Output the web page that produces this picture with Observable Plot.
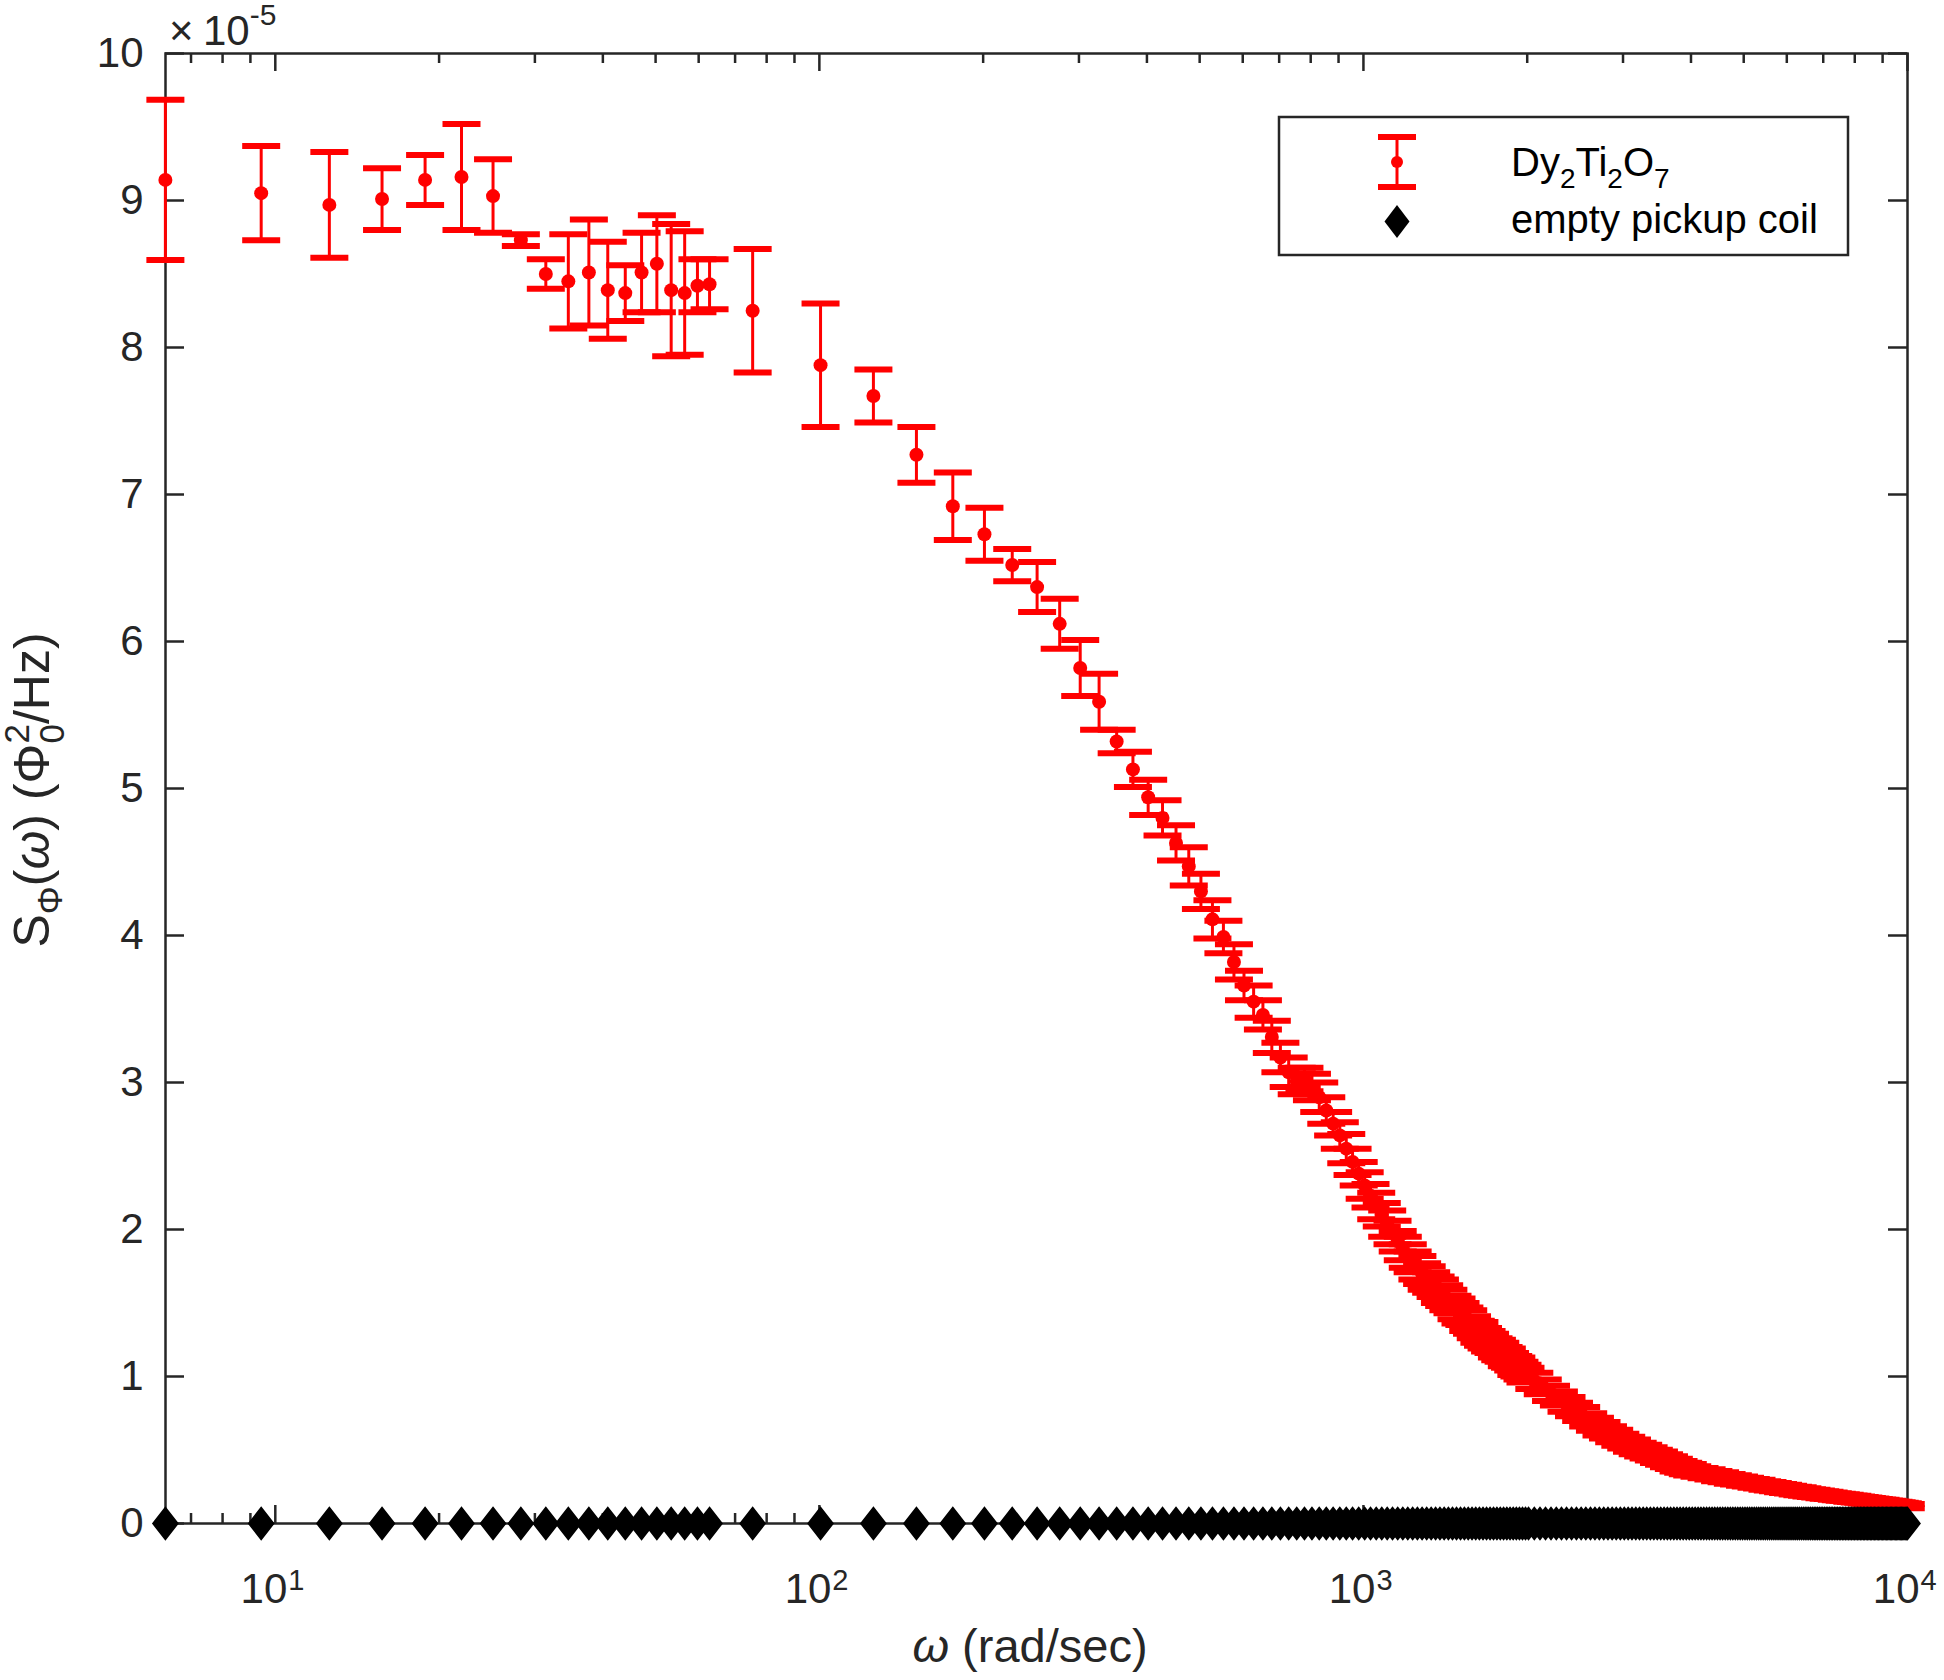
<!DOCTYPE html>
<html><head><meta charset="utf-8">
<script src="https://cdn.jsdelivr.net/npm/d3@7"></script>
<script src="https://cdn.jsdelivr.net/npm/@observablehq/plot@0.6"></script>
<style>html,body{margin:0;padding:0;background:#fff;} #chart svg{display:block}</style>
</head><body><div id="chart"></div>
<script>
// ---- data (S in units of 1e-5 Phi0^2/Hz, omega in rad/s) ----
const omegaLow = [6.28, 9.42, 12.57, 15.71, 18.85, 21.99, 25.13, 28.27, 31.42, 34.56,
  37.70, 40.84, 43.98, 47.12, 50.27, 53.41, 56.55, 59.69, 62.83, 75.40,
  100.5, 125.7, 150.8, 175.9, 201.1, 226.2, 251.3, 276.5, 301.6, 326.7,
  351.9, 377.0, 402.1, 427.3, 452.4, 477.5, 502.7, 527.8, 552.9, 578.1,
  603.2, 628.3, 653.5, 678.6, 703.7];
const sLow = [9.14, 9.05, 8.97, 9.01, 9.14, 9.16, 9.03, 8.73, 8.50, 8.45,
  8.51, 8.39, 8.37, 8.51, 8.57, 8.39, 8.37, 8.42, 8.43, 8.25,
  7.88, 7.67, 7.27, 6.92, 6.73, 6.52, 6.37, 6.12, 5.82, 5.59,
  5.32, 5.13, 4.94, 4.80, 4.63, 4.47, 4.30, 4.11, 3.99, 3.82,
  3.66, 3.55, 3.46, 3.31, 3.17];
const errLow = [0.545, 0.32, 0.36, 0.21, 0.17, 0.36, 0.25, 0.04, 0.10, 0.32,
  0.36, 0.33, 0.19, 0.27, 0.33, 0.45, 0.42, 0.18, 0.17, 0.42,
  0.42, 0.18, 0.19, 0.23, 0.18, 0.11, 0.17, 0.17, 0.19, 0.19,
  0.08, 0.12, 0.12, 0.12, 0.12, 0.13, 0.12, 0.13, 0.11, 0.12,
  0.10, 0.11, 0.10, 0.11, 0.10];

const omegaMid = [728.8, 754.0, 779.1, 804.2, 829.4, 854.5, 879.6, 904.8, 929.9, 955.0,
  980.2, 1005.3, 1030.4, 1055.6, 1080.7, 1105.8, 1131.0, 1156.1, 1181.2, 1206.4,
  1231.5, 1256.6, 1281.8, 1306.9, 1332.0, 1357.2, 1382.3, 1407.4, 1432.6, 1457.7,
  1482.8, 1508.0, 1533.1, 1558.2, 1583.4, 1608.5, 1633.6, 1658.8, 1683.9, 1709.0,
  1734.2, 1759.3, 1784.4, 1809.6, 1834.7, 1859.8, 1885.0, 1910.1, 1935.2, 1960.4,
  1985.5];
const sMid = [3.07, 3.01, 3.02, 2.97, 2.90, 2.81, 2.72, 2.64, 2.55, 2.46,
  2.38, 2.30, 2.23, 2.16, 2.10, 2.04, 1.98, 1.92, 1.87, 1.82,
  1.78, 1.74, 1.70, 1.67, 1.64, 1.61, 1.58, 1.55, 1.52, 1.49,
  1.46, 1.43, 1.41, 1.38, 1.35, 1.32, 1.30, 1.27, 1.25, 1.23,
  1.21, 1.19, 1.17, 1.15, 1.13, 1.11, 1.09, 1.07, 1.05, 1.03,
  1.01];
const errMid = [0.10, 0.09, 0.08, 0.09, 0.10, 0.09, 0.08, 0.09, 0.10, 0.09,
  0.08, 0.09, 0.08, 0.09, 0.08, 0.09, 0.08, 0.07, 0.08, 0.08,
  0.07, 0.08, 0.07, 0.08, 0.07, 0.07, 0.08, 0.07, 0.07, 0.06,
  0.07, 0.07, 0.06, 0.07, 0.06, 0.06, 0.07, 0.06, 0.06, 0.06,
  0.05, 0.06, 0.06, 0.05, 0.06, 0.05, 0.05, 0.06, 0.05, 0.05,
  0.05];

const omegaHigh = [2061, 2136, 2212, 2287, 2362, 2438, 2513, 2589, 2664, 2739,
  2815, 2890, 2966, 3041, 3116, 3192, 3267, 3343, 3418, 3493,
  3569, 3644, 3720, 3795, 3870, 3946,
  4021, 4147, 4273, 4398, 4524, 4650, 4775, 4901, 5027, 5152,
  5278, 5404, 5529, 5655, 5781, 5906, 6032, 6158, 6283, 6409,
  6535, 6660, 6786, 6912, 7037, 7163, 7289, 7414, 7540, 7666,
  7791, 7917, 8043, 8168, 8294, 8420, 8545, 8671, 8796, 8922,
  9048, 9173, 9299, 9425, 9550, 9676, 9802, 9927];
const sHigh = [0.97, 0.93, 0.885, 0.85, 0.81, 0.775, 0.745, 0.705, 0.675, 0.645,
  0.62, 0.595, 0.57, 0.55, 0.53, 0.51, 0.495, 0.48, 0.465, 0.45,
  0.435, 0.42, 0.405, 0.39, 0.38, 0.37,
  0.358, 0.348, 0.338, 0.328, 0.318, 0.309, 0.300, 0.292, 0.284, 0.277,
  0.270, 0.263, 0.256, 0.250, 0.244, 0.238, 0.232, 0.227, 0.222, 0.216,
  0.211, 0.207, 0.202, 0.198, 0.194, 0.190, 0.186, 0.182, 0.179, 0.175,
  0.172, 0.168, 0.165, 0.162, 0.159, 0.155, 0.152, 0.149, 0.146, 0.143,
  0.140, 0.137, 0.134, 0.131, 0.128, 0.125, 0.122, 0.118];
const errHigh = [0.055, 0.05, 0.052, 0.048, 0.05, 0.046, 0.048, 0.045, 0.044, 0.046,
  0.042, 0.043, 0.041, 0.04, 0.042, 0.039, 0.04, 0.038, 0.037, 0.039,
  0.036, 0.037, 0.035, 0.036, 0.034, 0.035,
  0.032, 0.03, 0.031, 0.029, 0.03, 0.028, 0.029, 0.027, 0.028, 0.026,
  0.027, 0.025, 0.026, 0.025, 0.024, 0.025, 0.024, 0.023, 0.024, 0.023,
  0.022, 0.023, 0.022, 0.021, 0.022, 0.021, 0.02, 0.021, 0.02, 0.02,
  0.019, 0.02, 0.019, 0.019, 0.018, 0.019, 0.018, 0.018, 0.017, 0.018,
  0.017, 0.017, 0.016, 0.017, 0.016, 0.016, 0.016, 0.015];

// empty pickup coil: measured on a dense grid; above 2000 rad/s it is listed separately
const omegaCoilHigh = [2011, 2061, 2111, 2161, 2212, 2262, 2312, 2362, 2413, 2463,
  2513, 2563, 2614, 2664, 2714, 2765, 2815, 2865, 2915, 2966,
  3016, 3066, 3116, 3167, 3217, 3267, 3317, 3368, 3418, 3468,
  3519, 3569, 3619, 3669, 3720, 3770, 3820, 3870, 3921, 3971,
  4021, 4071, 4122, 4172, 4222, 4273, 4323, 4373, 4423, 4474,
  4524, 4574, 4624, 4675, 4725, 4775, 4825, 4876, 4926, 4976,
  5027, 5077, 5127, 5177, 5228, 5278, 5328, 5378, 5429, 5479,
  5529, 5579, 5630, 5680, 5730, 5781, 5831, 5881, 5931, 5982,
  6032, 6082, 6132, 6183, 6233, 6283, 6333, 6384, 6434, 6484,
  6535, 6585, 6635, 6685, 6736, 6786, 6836, 6886, 6937, 6987,
  7037, 7087, 7138, 7188, 7238, 7288, 7339, 7389, 7439, 7490,
  7540, 7590, 7640, 7691, 7741, 7791, 7841, 7892, 7942, 7992,
  8042, 8093, 8143, 8193, 8244, 8294, 8344, 8394, 8445, 8495,
  8545, 8595, 8646, 8696, 8746, 8796, 8847, 8897, 8947, 8998,
  9048, 9098, 9148, 9199, 9249, 9299, 9349, 9400, 9450, 9500,
  9550, 9601, 9651, 9701, 9752, 9802, 9852, 9902, 9953, 10000];
// coil signal reads as zero on this scale at every frequency
const coilS = [
  0,0,0,0,0,0,0,0,0,0,0,0,0,0,0, 0,0,0,0,0,0,0,0,0,0,0,0,0,0,0,
  0,0,0,0,0,0,0,0,0,0,0,0,0,0,0, 0,0,0,0,0,0,0,0,0,0,0,0,0,0,0,
  0,0,0,0,0,0,0,0,0,0,0,0,0,0,0, 0,0,0,0,0,0,0,0,0,0,0,0,0,0,0,
  0,0,0,0,0,0,0,0,0,0,0,0,0,0,0, 0,0,0,0,0,0,0,0,0,0,0,0,0,0,0,
  0,0,0,0,0,0,0,0,0,0,0,0,0,0,0, 0,0,0,0,0,0,0,0,0,0,0,0,0,0,0,
  0,0,0,0,0,0,0,0,0,0,0,0,0,0,0, 0,0,0,0,0,0,0,0,0,0,0,0,0,0,0,
  0,0,0,0,0,0,0,0,0,0,0,0,0,0,0, 0,0,0,0,0,0,0,0,0,0,0,0,0,0,0,
  0,0,0,0,0,0,0,0,0,0,0,0,0,0,0, 0,0,0,0,0,0,0,0,0,0,0,0,0,0,0,
  0,0,0,0,0,0,0,0,0,0,0,0,0,0,0, 0,0,0,0,0,0,0,0,0,0,0,0,0,0,0,
  0,0,0,0,0,0,0,0,0,0,0,0,0,0,0, 0,0,0,0,0,0,0,0,0,0,0,0,0,0,0];

const yTicks = [0, 1, 2, 3, 4, 5, 6, 7, 8, 9, 10];
const xMajor = [10, 100, 1000, 10000];
const xMinor = [7, 8, 9, 20, 30, 40, 50, 60, 70, 80, 90, 200, 300, 400, 500, 600, 700, 800, 900,
  2000, 3000, 4000, 5000, 6000, 7000, 8000, 9000];
const xDomain = [6.2832, 10000];
const yDomain = [0, 10];

// ---- layout ----
const W = 1944, H = 1680;
const M = {top: 53, right: 37, bottom: 157, left: 165};
const plotW = W - M.left - M.right;
const plotH = H - M.top - M.bottom;
const FONT = '"Liberation Sans", Arial, Helvetica, sans-serif';
const AX = "#262626";
const RED = "#ff0000";

const omega = [...omegaLow, ...omegaMid, ...omegaHigh];
const sVal = [...sLow, ...sMid, ...sHigh];
const sErr = [...errLow, ...errMid, ...errHigh];
const dy = omega.map((w, i) => ({w, s: sVal[i], e: sErr[i]}));
const omegaCoil = [...omegaLow, ...omegaMid, ...omegaCoilHigh];
const coil = omegaCoil.map((w, i) => ({w, s: coilS[i] ?? 0}));

function rectSymbol(w, h) {
  return {draw(ctx) { ctx.moveTo(-w/2, -h/2); ctx.lineTo(w/2, -h/2); ctx.lineTo(w/2, h/2); ctx.lineTo(-w/2, h/2); ctx.closePath(); }};
}
const capSym = rectSymbol(38, 6);
const diamondSym = {draw(ctx) { ctx.moveTo(0, -16); ctx.lineTo(12.5, 0); ctx.lineTo(0, 16); ctx.lineTo(-12.5, 0); ctx.closePath(); }};

const chart = Plot.plot({
  width: W, height: H,
  marginTop: M.top, marginRight: M.right, marginBottom: M.bottom, marginLeft: M.left,
  x: {type: "log", domain: xDomain, axis: null},
  y: {domain: yDomain, axis: null},
  style: {fontFamily: FONT, background: "white", color: AX, overflow: "visible"},
  marks: [
    Plot.frame({stroke: AX, strokeWidth: 2.5}),
    Plot.ruleY(yTicks, {y: d => d, stroke: AX, strokeWidth: 2.5, insetRight: plotW - 19}),
    Plot.ruleY(yTicks, {y: d => d, stroke: AX, strokeWidth: 2.5, insetLeft: plotW - 19}),
    Plot.ruleX(xMajor, {x: d => d, stroke: AX, strokeWidth: 2.5, insetTop: plotH - 18}),
    Plot.ruleX(xMajor, {x: d => d, stroke: AX, strokeWidth: 2.5, insetBottom: plotH - 18}),
    Plot.ruleX(xMinor, {x: d => d, stroke: AX, strokeWidth: 2.5, insetTop: plotH - 10}),
    Plot.ruleX(xMinor, {x: d => d, stroke: AX, strokeWidth: 2.5, insetBottom: plotH - 10}),
    Plot.text(yTicks, {y: d => d, frameAnchor: "left", dx: -22, textAnchor: "end", text: d => String(d), fontSize: 42, fill: AX}),
    Plot.text(xMajor, {x: d => d, frameAnchor: "bottom", text: () => "10", textAnchor: "end", lineAnchor: "bottom", dx: 12, dy: 79, fontSize: 42, fill: AX}),
    Plot.text(xMajor, {x: d => d, frameAnchor: "bottom", text: d => String(Math.round(Math.log10(d))), textAnchor: "start", lineAnchor: "bottom", dx: 13, dy: 66, fontSize: 29, fill: AX}),
    // Dy2Ti2O7 error bars
    Plot.ruleX(dy, {x: "w", y1: d => d.s - d.e, y2: d => d.s + d.e, stroke: RED, strokeWidth: 3}),
    Plot.dot(dy, {x: "w", y: d => d.s - d.e, symbol: capSym, fill: RED, stroke: "none"}),
    Plot.dot(dy, {x: "w", y: d => d.s + d.e, symbol: capSym, fill: RED, stroke: "none"}),
    Plot.dot(dy, {x: "w", y: "s", r: 7, fill: RED, stroke: "none"}),
    // empty pickup coil
    Plot.dot(coil, {x: "w", y: "s", symbol: diamondSym, fill: "black", stroke: "black", strokeWidth: 1.5})
  ]
});
document.getElementById("chart").appendChild(chart);

// ---- annotations (labels, multiplier, legend) ----
const svg = d3.select(chart);
const NS = (sel) => sel.attr("font-family", FONT);

// y label
const yl = NS(svg.append("text")).attr("transform", "translate(49,790) rotate(-90)")
  .attr("text-anchor", "middle").attr("font-size", 50).attr("fill", AX);
yl.append("tspan").text("S");
yl.append("tspan").attr("font-size", 35).attr("dy", 13).text("Φ");
yl.append("tspan").attr("dy", -13).text("(");
yl.append("tspan").attr("font-style", "italic").text("ω");
yl.append("tspan").text(") (Φ");
yl.append("tspan").attr("font-size", 35).attr("dy", -20).text("2");
yl.append("tspan").attr("font-size", 35).attr("dx", -19.5).attr("dy", 35).text("0");
yl.append("tspan").attr("dy", -15).text("/Hz)");

// x label
const xl = NS(svg.append("text")).attr("x", 1030).attr("y", 1662)
  .attr("text-anchor", "middle").attr("font-size", 47).attr("fill", AX);
xl.append("tspan").attr("font-style", "italic").text("ω");
xl.append("tspan").text(" (rad/sec)");

// multiplier
const mult = NS(svg.append("text")).attr("y", 45).attr("font-size", 42).attr("fill", AX).attr("text-anchor", "start");
mult.append("tspan").attr("x", 169).text("×");
mult.append("tspan").attr("x", 203).text("10");
mult.append("tspan").attr("font-size", 30).attr("dy", -20).text("-5");

// legend
const lg = svg.append("g");
lg.append("rect").attr("x", 1279).attr("y", 117).attr("width", 569).attr("height", 138)
  .attr("fill", "white").attr("stroke", AX).attr("stroke-width", 2.5);
lg.append("line").attr("x1", 1397).attr("x2", 1397).attr("y1", 137).attr("y2", 187)
  .attr("stroke", RED).attr("stroke-width", 3);
lg.append("rect").attr("x", 1378).attr("y", 134).attr("width", 38).attr("height", 6).attr("fill", RED);
lg.append("rect").attr("x", 1378).attr("y", 184).attr("width", 38).attr("height", 6).attr("fill", RED);
lg.append("circle").attr("cx", 1397).attr("cy", 162).attr("r", 6).attr("fill", RED);
lg.append("path").attr("d", "M1397,205L1409.5,221.5L1397,238L1384.5,221.5Z").attr("fill", "black");
const t1 = NS(lg.append("text")).attr("x", 1511).attr("y", 176).attr("font-size", 40).attr("fill", "black").attr("text-anchor", "start");
t1.append("tspan").text("Dy");
t1.append("tspan").attr("font-size", 28).attr("dy", 12).text("2");
t1.append("tspan").attr("dy", -12).text("Ti");
t1.append("tspan").attr("font-size", 28).attr("dy", 12).text("2");
t1.append("tspan").attr("dy", -12).text("O");
t1.append("tspan").attr("font-size", 28).attr("dy", 12).text("7");
NS(lg.append("text")).attr("x", 1511).attr("y", 233).attr("font-size", 40).attr("fill", "black")
  .attr("text-anchor", "start").text("empty pickup coil");
</script>
</body></html>
